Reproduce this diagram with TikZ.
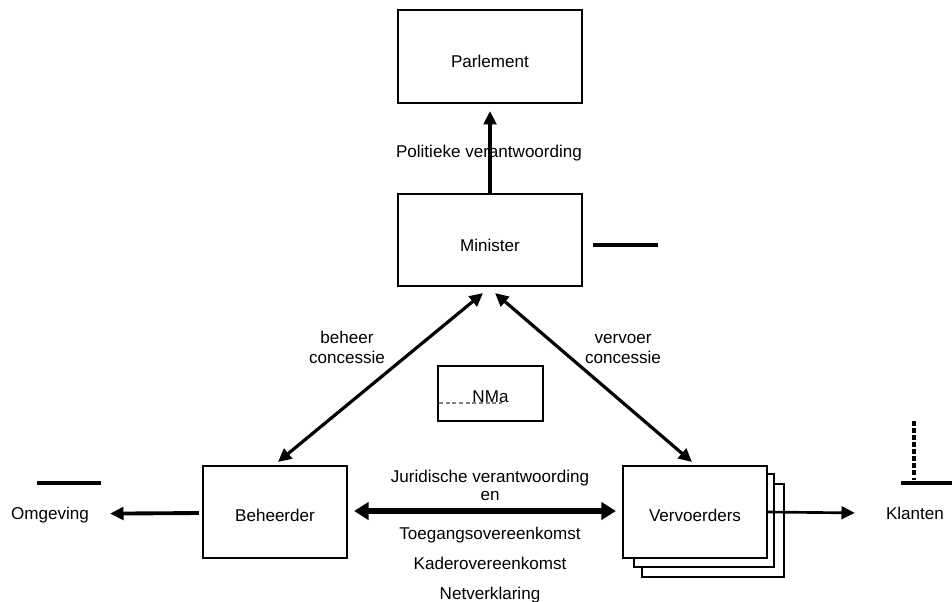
\documentclass[tikz,border=0pt]{standalone}
\usepackage{fontspec}
\setmainfont{Liberation Sans}
\usetikzlibrary{arrows.meta,calc}
\begin{document}
\begin{tikzpicture}[x=0.75pt,y=-0.75pt,
  box/.style={draw=black,line width=1.6pt,fill=white,inner sep=0pt},
  lbl/.style={anchor=base,inner sep=0pt,font=\fontsize{12.8pt}{15pt}\selectfont},
  tipA/.style={-{Triangle[length=10pt,width=9.5pt]}},
  dbl/.style={{Triangle[length=10pt,width=9.5pt]}-{Triangle[length=10pt,width=9.5pt]}},
  thickdbl/.style={{Triangle[length=11pt,width=13pt]}-{Triangle[length=11pt,width=13pt]}},
  mark line/.style={line width=2.8pt,black}
]
\useasboundingbox (0,0) rectangle (952,601);

% boxes
\node[box,minimum width=138pt,minimum height=69.75pt] (Parlement) at (490,56.5) {};
\node[box,minimum width=138pt,minimum height=69pt] (Minister) at (490,240) {};
\node[box,minimum width=78.75pt,minimum height=41.25pt] (NMa) at (490.5,393.5) {};
\node[box,minimum width=108pt,minimum height=69pt] (Beheerder) at (275,512) {};
\node[box,minimum width=106.5pt,minimum height=69.75pt] (V3) at (713,530.5) {};
\node[box,minimum width=105pt,minimum height=69.75pt] (V2) at (704,520.5) {};
\node[box,minimum width=108pt,minimum height=69pt] (Vervoerders) at (695,512) {};

% box texts
\node[lbl] at ($(Parlement.center)+(0,10.5)$) {Parlement};
\node[lbl] at ($(Minister.center)+(0,11)$) {Minister};
\node[lbl] at ($(NMa.center)+(0,8.5)$) {NMa};
\node[lbl] at ($(Beheerder.center)+(0,9)$) {Beheerder};
\node[lbl] at ($(Vervoerders.center)+(0,9)$) {Vervoerders};

% outside texts
\node[lbl] (Omgeving) at (50,519) {Omgeving};
\node[lbl] (Klanten) at (915,519) {Klanten};
\node[lbl] (pol) at (489,157) {Politieke verantwoording};
\node[lbl] at (347,343) {beheer};
\node[lbl] at (347,363) {concessie};
\node[lbl] at (623,343) {vervoer};
\node[lbl] at (623,363) {concessie};
\node[lbl] at (490,482) {Juridische verantwoording};
\node[lbl] at (490,500) {en};
\node[lbl] at (490,539) {Toegangsovereenkomst};
\node[lbl] at (490,569) {Kaderovereenkomst};
\node[lbl] at (490,599) {Netverklaring};

% connectors
\draw[tipA,line width=2.4pt] (Minister.north) -- ($(Parlement.south)+(0,7)$);
\draw[dbl,line width=2.4pt] ($(Minister.south)+(-7,6)$) -- ($(Beheerder.north)+(3,-3)$);
\draw[dbl,line width=2.4pt] ($(Minister.south)+(5,6)$) -- ($(Vervoerders.north)+(-3,-3)$);
\draw[thickdbl,line width=4.6pt] ($(Beheerder.east)+(6,-1)$) -- ($(Vervoerders.west)+(-6,-1)$);
\draw[tipA,line width=2.9pt] ($(Beheerder.west)+(-3,1)$) -- ($(Omgeving.east)+(21,-1)$);
\draw[tipA,line width=2pt] (Vervoerders.east) -- ($(Klanten.west)+(-31,0)$);

% marks
\draw[mark line] (593,245) -- (658,245);
\draw[mark line] (37,483) -- (101,483);
\draw[mark line] (901,483) -- (952,483);
\draw[black,line width=3pt,dash pattern=on 3.5pt off 1.8pt] (914,421) -- (914,480);
\draw[gray,line width=1.6pt,dash pattern=on 3pt off 2pt] (439,403) -- (502,403);
\end{tikzpicture}
\end{document}
